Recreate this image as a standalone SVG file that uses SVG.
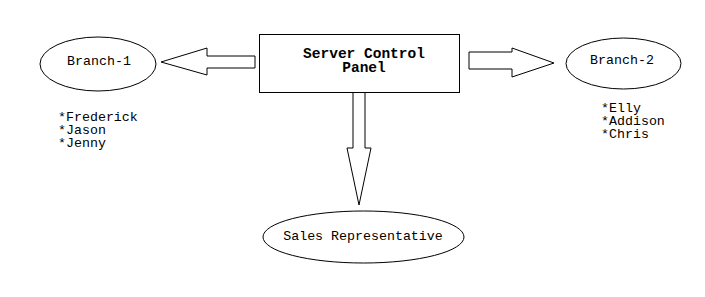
<svg xmlns="http://www.w3.org/2000/svg" width="705" height="297" viewBox="0 0 705 297">
<style>
.shape{fill:#fff;stroke:#000;stroke-width:1}
.t{font-family:"Liberation Mono","Courier New",monospace;font-size:13.3px;fill:#000}
.b{font-weight:bold;font-size:14.5px}
</style>
<rect width="705" height="297" fill="#fff"/>
<g id="connectors">
<polygon class="shape" points="255,56 207,56 207,48 161,62 207,75 207,68 255,68"/>
<polygon class="shape" points="469,52 512,52 512,48 554,63 512,77 512,69 469,69"/>
<polygon class="shape" points="353,92 365,92 365,148 371,148 359,205 347,148 353,148"/>
</g>
<g id="server">
<rect class="shape" x="259.5" y="34.5" width="200" height="58"/>
<text class="t b" x="364" y="58" text-anchor="middle">Server Control</text>
<text class="t b" x="364" y="72" text-anchor="middle">Panel</text>
</g>
<g id="branch1">
<ellipse class="shape" cx="98" cy="64" rx="58" ry="27"/>
<text class="t" x="99" y="65" text-anchor="middle">Branch-1</text>
</g>
<g id="branch1-names">
<text class="t" x="58" y="121">*Frederick</text>
<text class="t" x="58" y="134">*Jason</text>
<text class="t" x="58" y="147">*Jenny</text>
</g>
<g id="branch2">
<ellipse class="shape" cx="623.5" cy="63.5" rx="57.5" ry="25.5"/>
<text class="t" x="622" y="64" text-anchor="middle">Branch-2</text>
</g>
<g id="branch2-names">
<text class="t" x="601" y="112">*Elly</text>
<text class="t" x="601" y="125">*Addison</text>
<text class="t" x="601" y="138">*Chris</text>
</g>
<g id="sales">
<ellipse class="shape" cx="363.5" cy="237" rx="100.5" ry="26"/>
<text class="t" x="363" y="240" text-anchor="middle">Sales Representative</text>
</g>
</svg>
